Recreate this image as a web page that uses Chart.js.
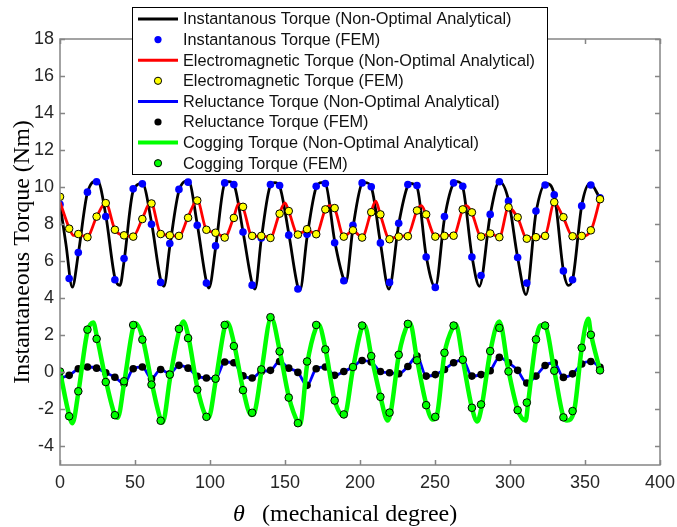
<!DOCTYPE html>
<html>
<head>
<meta charset="utf-8">
<script src="https://cdn.jsdelivr.net/npm/chart.js@4/dist/chart.umd.min.js"></script>
<style>
  html, body { margin: 0; padding: 0; background: #fff; }
</style>
</head>
<body>
<canvas id="chart" width="677" height="527"></canvas>
<script>
// FEM sample angles (mechanical degree), shared by all FEM series
let angles = [0, 6.1, 12.2, 18.3, 24.4, 30.5, 36.6, 42.7, 48.8, 54.9,
  61.0, 67.1, 73.2, 79.3, 85.4, 91.5, 97.6, 103.7, 109.8, 115.9,
  122.0, 128.1, 134.2, 140.3, 146.4, 152.5, 158.6, 164.7, 170.8, 176.9,
  183.1, 189.2, 195.3, 201.4, 207.5, 213.6, 219.7, 225.8, 231.9, 238.0,
  244.1, 250.2, 256.3, 262.4, 268.5, 274.6, 280.7, 286.8, 292.9, 299.0,
  305.1, 311.2, 317.3, 323.4, 329.5, 335.6, 341.7, 347.8, 353.9, 360.0];

let instFem = [9.07, 5.07, 6.47, 9.73, 10.29, 8.41, 5.0, 6.15, 9.91, 10.18,
  8.0, 4.86, 6.96, 9.88, 10.27, 7.94, 4.82, 6.83, 10.23, 10.14,
  7.58, 4.71, 7.26, 10.14, 10.09, 7.41, 4.5, 7.46, 10.05, 10.2,
  7.0, 4.95, 7.94, 10.23, 10.02, 6.99, 4.86, 8.05, 10.14, 10.09,
  6.23, 4.59, 8.41, 10.23, 10.05, 6.23, 5.23, 8.53, 10.29, 9.25,
  6.2, 4.82, 8.71, 10.12, 9.59, 5.48, 5.0, 8.99, 10.12, 9.43];

let emFem = [9.48, 7.76, 7.47, 7.30, 8.41, 9.14, 7.70, 7.40, 7.33, 8.28,
  9.12, 7.47, 7.40, 7.37, 8.35, 9.28, 7.70, 7.54, 7.28, 8.34,
  8.94, 7.37, 7.37, 7.26, 8.57, 8.71, 7.44, 7.73, 7.46, 8.80,
  8.87, 7.33, 7.67, 7.28, 8.65, 8.53, 7.19, 7.33, 7.35, 8.74,
  8.53, 7.33, 7.37, 7.38, 8.80, 8.64, 7.33, 7.50, 7.30, 8.91,
  8.37, 7.22, 7.30, 7.37, 9.19, 8.38, 7.35, 7.37, 7.67, 9.35];

let relFem = [-0.30, -0.16, 0.20, 0.29, 0.23, -0.02, -0.26, -0.61, 0.20, 0.29,
  -0.34, 0.16, -0.07, 0.38, 0.23, -0.21, -0.30, -0.34, 0.56, 0.52,
  -0.19, -0.30, 0.05, 0.11, 0.59, 0.23, 0.00, -0.70, 0.20, 0.29,
  -0.16, 0.05, 0.29, 0.64, 0.56, 0.05, -0.02, -0.07, 0.32, 0.88,
  -0.20, -0.12, 0.16, 0.52, 0.68, -0.20, -0.12, 0.09, 0.81, 0.52,
  0.11, -0.57, -0.20, 0.37, 0.52, -0.27, -0.08, 0.45, 0.59, 0.27];

let cogFem = [0.05, -2.37, -1.02, 2.31, 1.81, -0.52, -2.31, -0.48, 2.56, 1.77,
  -0.66, -2.61, -0.12, 2.35, 1.85, -0.93, -2.40, -0.34, 2.56, 1.42,
  -0.96, -2.18, 0.16, 2.98, 1.13, -1.36, -2.74, 0.59, 2.56, 1.24,
  -1.52, -2.27, 0.29, 2.53, 0.88, -1.32, -2.17, 0.95, 2.62, 0.65,
  -1.77, -2.40, 1.06, 2.53, 0.68, -1.91, -1.73, 1.15, 2.40, 0.05,
  -2.04, -1.63, 1.78, 2.53, 0.09, -2.43, -2.09, 1.33, 2.03, 0.11];

// analytical curves
let instLineAngles = [0, 4.0, 8.2, 12.2, 18.3, 25.0, 30.5, 36.6, 40.0, 42.7,
  48.8, 54.9, 61.0, 67.1, 69.3, 73.2, 79.3, 85.6, 91.5, 97.6,
  99.3, 103.7, 109.8, 112.5, 115.9, 122.0, 128.1, 130.0, 134.2, 140.3,
  143.3, 146.4, 152.5, 158.6, 160.0, 164.7, 170.8, 174.4, 176.9, 183.1,
  189.2, 190.5, 195.3, 201.4, 203.3, 207.5, 213.6, 219.3, 225.8, 231.9,
  233.3, 238.0, 244.1, 250.2, 256.3, 262.4, 264.9, 268.5, 274.6, 279.6,
  286.8, 292.9, 299.0, 305.1, 310.7, 317.3, 324.0, 329.5, 335.6, 338.9,
  341.7, 347.8, 353.3, 360.0];
let instLine = [9.1, 6.9, 4.6, 6.4, 9.7, 10.35, 8.5, 5.1, 4.7, 6.0,
  9.8, 10.2, 8.1, 5.0, 4.65, 6.8, 9.8, 10.35, 8.0, 4.9,
  4.55, 6.7, 10.2, 10.3, 10.15, 7.6, 4.8, 4.5, 7.2, 10.1,
  10.25, 10.05, 7.5, 4.6, 4.45, 7.3, 10.0, 10.25, 10.2, 7.1,
  5.0, 4.85, 7.8, 10.2, 10.25, 10.0, 7.0, 4.5, 8.0, 10.1,
  10.2, 10.0, 6.3, 4.6, 8.3, 10.2, 10.3, 10.0, 6.3, 4.65,
  8.5, 10.3, 9.3, 6.2, 4.2, 8.6, 10.2, 9.6, 5.5, 4.7,
  5.0, 9.0, 10.2, 9.4];

let emLineAngles = [0, 6.1, 9.0, 12.2, 18.3, 24.4, 30.5, 36.6, 42.7, 48.8,
  54.9, 60.5, 67.1, 73.2, 79.3, 85.4, 91.5, 97.6, 103.7, 109.8,
  115.9, 119.0, 122.0, 128.1, 134.2, 140.3, 146.4, 150.0, 152.5, 158.6,
  164.7, 170.8, 176.9, 180.0, 183.1, 189.2, 195.3, 201.4, 207.5, 210.5,
  213.6, 219.7, 225.8, 231.9, 238.0, 241.0, 244.1, 250.2, 256.3, 262.4,
  268.5, 271.0, 274.6, 280.7, 286.8, 292.9, 299.0, 305.1, 311.2, 317.3,
  323.4, 329.5, 335.6, 341.7, 347.8, 353.9, 360.0];
let emLine = [9.2, 7.8, 7.4, 7.4, 7.35, 8.4, 9.15, 7.7, 7.4, 7.35,
  8.3, 9.2, 7.5, 7.4, 7.35, 8.4, 9.3, 7.7, 7.55, 7.3,
  8.4, 9.1, 8.9, 7.35, 7.35, 7.3, 8.6, 9.15, 8.7, 7.45,
  7.7, 7.45, 8.8, 9.0, 8.85, 7.35, 7.65, 7.3, 8.7, 9.25,
  8.5, 7.2, 7.35, 7.4, 8.75, 9.0, 8.5, 7.35, 7.4, 7.4,
  8.8, 9.0, 8.6, 7.35, 7.5, 7.3, 8.9, 8.35, 7.25, 7.3,
  7.4, 9.15, 8.35, 7.35, 7.35, 7.65, 9.35];

let relLine = relFem;

let cogLineAngles = [0, 6.1, 8.3, 12.2, 18.3, 22.2, 24.4, 30.5, 36.6, 38.5,
  42.7, 48.8, 50.5, 54.9, 61.0, 67.1, 68.5, 73.2, 79.3, 82.2,
  85.4, 91.5, 97.6, 99.0, 103.7, 109.8, 111.5, 115.9, 122.0, 127.5,
  129.5, 134.2, 140.8, 146.4, 152.5, 158.6, 160.0, 164.7, 170.8, 172.3,
  176.9, 183.1, 189.5, 195.3, 201.4, 203.0, 207.5, 213.6, 218.5, 220.4,
  225.8, 231.9, 233.3, 238.0, 244.1, 248.5, 251.0, 256.3, 262.4, 263.8,
  268.5, 274.6, 278.2, 281.0, 286.8, 292.9, 299.0, 305.1, 310.5, 312.0,
  317.3, 320.5, 323.4, 329.5, 335.6, 338.0, 342.7, 347.8, 352.2, 353.9,
  360.0];
let cogLine = [0.05, -2.3, -2.75, -1.1, 2.2, 2.7, 2.0, -0.4, -2.3, -2.45,
  -0.6, 2.45, 2.65, 1.9, -0.5, -2.55, -2.7, -0.4, 2.2, 2.75,
  2.0, -0.8, -2.4, -2.45, -0.5, 2.45, 2.7, 1.6, -0.9, -2.3,
  -2.2, 0.0, 2.95, 1.2, -1.3, -2.7, -2.8, 0.4, 2.45, 2.6,
  1.3, -1.5, -2.35, 0.2, 2.45, 2.55, 0.9, -1.3, -2.6, -2.2,
  0.9, 2.6, 2.67, 0.7, -1.7, -2.55, -2.4, 1.0, 2.5, 2.6,
  0.7, -1.9, -2.65, -1.9, 1.1, 2.75, 0.1, -2.0, -2.6, -1.7,
  1.7, 2.55, 2.5, 0.1, -2.4, -2.6, -2.1, 1.3, 2.9, 2.1,
  0.1];

let xTicks = [0, 50, 100, 150, 200, 250, 300, 350, 400];
let yTicks = [-4, -2, 0, 2, 4, 6, 8, 10, 12, 14, 16, 18];

let labels = [
  "Instantanous Torque (Non-Optimal Analytical)",
  "Instantanous Torque (FEM)",
  "Electromagnetic Torque (Non-Optimal Analytical)",
  "Electromagnetic Torque (FEM)",
  "Reluctance Torque (Non-Optimal Analytical)",
  "Reluctance Torque (FEM)",
  "Cogging Torque (Non-Optimal Analytical)",
  "Cogging Torque (FEM)"
];

function pts(xs, ys) {
  return xs.map(function(x, i) { return {x: x, y: ys[i]}; });
}

function lineSet(label, xs, ys, color, width, order) {
  return {
    label: label, data: pts(xs, ys), borderColor: color, backgroundColor: color,
    borderWidth: width, pointRadius: 0, showLine: true, fill: false,
    cubicInterpolationMode: 'monotone', order: order
  };
}

function dotSet(label, ys, fillColor, edge, order) {
  return {
    label: label, data: pts(angles, ys), showLine: false,
    pointRadius: 3.8, pointBackgroundColor: fillColor,
    pointBorderColor: edge ? '#000000' : fillColor, pointBorderWidth: edge ? 1 : 0,
    borderColor: fillColor, backgroundColor: fillColor, order: order
  };
}

let datasets = [
  lineSet(labels[0], instLineAngles, instLine, '#000000', 2.8, 8),
  dotSet(labels[1], instFem, '#0000ff', false, 7),
  lineSet(labels[2], emLineAngles, emLine, '#ff0000', 2.8, 6),
  dotSet(labels[3], emFem, '#ffff00', true, 5),
  lineSet(labels[4], angles, relLine, '#0000ff', 2.8, 4),
  dotSet(labels[5], relFem, '#000000', false, 3),
  lineSet(labels[6], cogLineAngles, cogLine, '#00ff00', 4.5, 2),
  dotSet(labels[7], cogFem, '#00ff00', true, 1)
];

// gray MATLAB-like box with inward ticks
let framePlugin = {
  id: 'frame',
  afterDatasetsDraw: function(chart) {
    let ctx = chart.ctx, a = chart.chartArea, x = chart.scales.x, y = chart.scales.y;
    ctx.save();
    ctx.strokeStyle = '#858585';
    ctx.lineWidth = 1.5;
    ctx.strokeRect(a.left, a.top, a.right - a.left, a.bottom - a.top);
    ctx.beginPath();
    xTicks.forEach(function(v) {
      let px = Math.round(x.getPixelForValue(v)) + 0.5;
      ctx.moveTo(px, a.bottom); ctx.lineTo(px, a.bottom - 5);
      ctx.moveTo(px, a.top); ctx.lineTo(px, a.top + 5);
    });
    yTicks.forEach(function(v) {
      let py = Math.round(y.getPixelForValue(v)) + 0.5;
      ctx.moveTo(a.left, py); ctx.lineTo(a.left + 5, py);
      ctx.moveTo(a.right, py); ctx.lineTo(a.right - 5, py);
    });
    ctx.stroke();
    ctx.restore();
  }
};

// boxed legend overlapping the top of the plot, and x axis title
let legendPlugin = {
  id: 'boxLegend',
  afterDraw: function(chart) {
    let ctx = chart.ctx;
    ctx.save();
    ctx.fillStyle = '#ffffff';
    ctx.fillRect(133, 7, 415, 168);
    ctx.strokeStyle = '#000000';
    ctx.lineWidth = 1;
    ctx.strokeRect(132.5, 7.5, 415, 167);
    chart.data.datasets.forEach(function(ds, i) {
      let cy = 19 + i * 20.6;
      if (ds.showLine) {
        ctx.strokeStyle = ds.borderColor;
        ctx.lineWidth = i === 6 ? 4 : 3;
        ctx.beginPath(); ctx.moveTo(138, cy); ctx.lineTo(178, cy); ctx.stroke();
      } else {
        ctx.beginPath(); ctx.arc(158, cy, 3.6, 0, Math.PI * 2);
        ctx.fillStyle = ds.pointBackgroundColor; ctx.fill();
        if (ds.pointBorderWidth) { ctx.strokeStyle = '#000'; ctx.lineWidth = 1; ctx.stroke(); }
      }
      ctx.fillStyle = '#111111';
      ctx.font = '16.3px "Liberation Sans", Arial, sans-serif';
      ctx.textBaseline = 'middle';
      ctx.textAlign = 'left';
      ctx.fillText(ds.label, 183, cy + 1);
    });
    ctx.fillStyle = '#000000';
    ctx.textBaseline = 'alphabetic';
    ctx.font = 'italic 24px "Liberation Serif", "Times New Roman", serif';
    ctx.fillText('\u03B8', 233, 521);
    ctx.font = '24px "Liberation Serif", "Times New Roman", serif';
    ctx.fillText('(mechanical degree)', 262, 521);
    ctx.restore();
  }
};

let tickFont = {family: '"Liberation Sans", Arial, sans-serif', size: 18};

new Chart(document.getElementById('chart').getContext('2d'), {
  type: 'line',
  data: {datasets: datasets},
  options: {
    responsive: false,
    animation: false,
    events: [],
    layout: {padding: {left: 0, right: 17, top: 39, bottom: 0}},
    plugins: {legend: {display: false}, tooltip: {enabled: false}},
    scales: {
      x: {
        type: 'linear', min: 0, max: 400,
        afterBuildTicks: function(s) { s.ticks = xTicks.map(function(v) { return {value: v}; }); },
        afterFit: function(s) { s.height = 62; s.paddingLeft = 0; s.paddingRight = 0; },
        grid: {display: false, drawTicks: false},
        border: {display: false},
        ticks: {font: tickFont, color: '#262626', padding: 7, maxRotation: 0}
      },
      y: {
        type: 'linear', min: -5, max: 18,
        afterBuildTicks: function(s) { s.ticks = yTicks.map(function(v) { return {value: v}; }); },
        afterFit: function(s) { s.width = 60; s.paddingTop = 0; s.paddingBottom = 0; },
        grid: {display: false, drawTicks: false},
        border: {display: false},
        ticks: {font: tickFont, color: '#262626', padding: 6},
        title: {
          display: true, text: 'Instantaneous Torque (Nm)', color: '#000',
          font: {family: '"Liberation Serif", "Times New Roman", serif', size: 24},
          padding: {top: 8, bottom: 0}
        }
      }
    }
  },
  plugins: [framePlugin, legendPlugin]
});
</script>
</body>
</html>
